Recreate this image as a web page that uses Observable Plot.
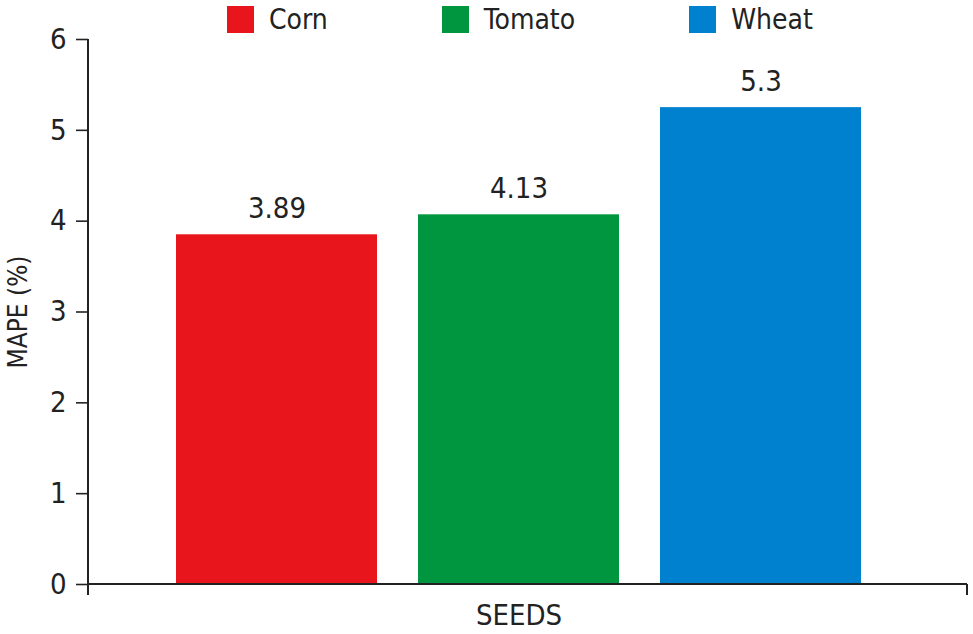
<!DOCTYPE html>
<html>
<head>
<meta charset="utf-8">
<script src="https://cdn.jsdelivr.net/npm/d3@7"></script>
<script src="https://cdn.jsdelivr.net/npm/@observablehq/plot@0.6"></script>
<style>
  html, body { margin: 0; padding: 0; background: #fff; }
  #wrap { position: relative; width: 973px; height: 634px; font-family: "DejaVu Sans Condensed", "Liberation Sans Narrow", sans-serif; }
  #legend { position: absolute; left: 227px; top: 6px; display: flex; align-items: center; gap: 114px; font-size: 28px; color: #222; }
  .item { display: flex; align-items: center; gap: 15px; }
  .sw { width: 27px; height: 27px; }
  .lbl { line-height: 27px; }
</style>
</head>
<body>
<div id="wrap"><div id="chart"></div><div id="legend"></div></div>
<script>
const crops = ["Corn", "Tomato", "Wheat"];
const barHeights = [3.85, 4.07, 5.25];
const valueLabels = ["3.89", "4.13", "5.3"];
const colors = ["#E8161C", "#00963F", "#0081CF"];
const yTicks = [0, 1, 2, 3, 4, 5, 6];
const yLabel = "MAPE (%)";
const xLabel = "SEEDS";

const data = crops.map((c, i) => ({crop: c, value: barHeights[i], label: valueLabels[i]}));
const font = '"DejaVu Sans Condensed", "Liberation Sans Narrow", sans-serif';

function axisLines(index, scales, values, dims) {
  const x0 = dims.marginLeft, x1 = dims.width - dims.marginRight;
  const y0 = scales.y(0), yTop = scales.y(6);
  const g = d3.create("svg:g").attr("stroke", "#222").attr("fill", "none");
  g.append("line").attr("x1", x0).attr("x2", x0).attr("y1", yTop).attr("y2", y0 + 11).attr("stroke-width", 2);
  g.append("line").attr("x1", x0).attr("x2", x1).attr("y1", y0).attr("y2", y0).attr("stroke-width", 2);
  g.append("line").attr("x1", x1).attr("x2", x1).attr("y1", y0).attr("y2", y0 + 11).attr("stroke-width", 2);
  return g.node();
}

const chart = Plot.plot({
  width: 973,
  height: 634,
  marginTop: 39,
  marginBottom: 50,
  marginLeft: 88,
  marginRight: 6,
  style: {fontFamily: font, color: "#222", background: "#fff"},
  x: {domain: crops, paddingInner: 0.169, paddingOuter: 0.4, align: 0.455, axis: null},
  y: {domain: [0, 6], axis: null},
  color: {domain: crops, range: colors},
  marks: [
    Plot.barY(data, {x: "crop", y: "value", fill: "crop"}),
    Plot.axisY({ticks: yTicks, tickSize: 12, tickPadding: 10, fontSize: 29, label: null, strokeWidth: 1.6, tickFormat: d => String(d)}),
    axisLines,
    Plot.text(data, {x: "crop", y: "value", text: "label", lineAnchor: "bottom", dy: -17, fontSize: 29, fill: "#222"}),
    Plot.text([xLabel], {x: () => crops[1], y: () => 0, lineAnchor: "top", dy: 20, fontSize: 29, fill: "#222"}),
    Plot.text([yLabel], {frameAnchor: "left", textAnchor: "middle", rotate: -90, dx: -70, fontSize: 26, fill: "#222"})
  ]
});
document.getElementById("chart").appendChild(chart);

const legend = d3.select("#legend");
crops.forEach((c, i) => {
  const it = legend.append("div").attr("class", "item");
  it.append("div").attr("class", "sw").style("background", colors[i]);
  it.append("div").attr("class", "lbl").text(c);
});
</script>
</body>
</html>
